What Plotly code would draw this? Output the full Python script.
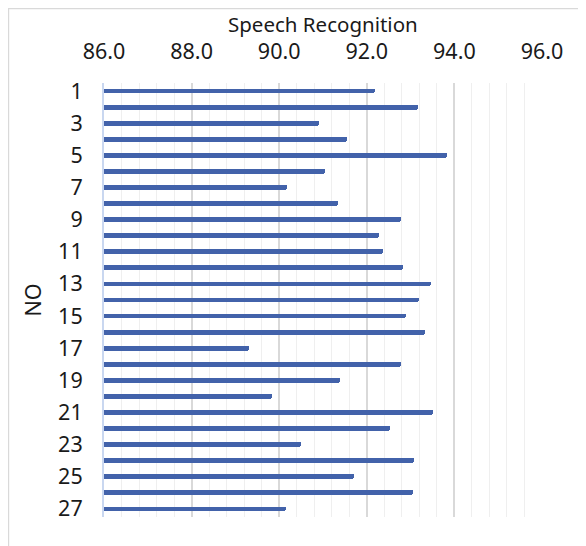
import plotly.graph_objects as go

no_labels = list(range(1, 28))
speech_recognition = [92.19, 93.18, 90.91, 91.55, 93.82, 91.05, 90.18, 91.35, 92.77,
                      92.27, 92.37, 92.83, 93.47, 93.19, 92.89, 93.34, 89.31, 92.77,
                      91.39, 89.83, 93.50, 92.54, 90.50, 93.07, 91.70, 93.05, 90.16]
x_tick_vals = [86, 88, 90, 92, 94, 96]
y_tick_vals = [n for n in no_labels if n % 2 == 1]

FONT = "Noto Sans"
FS = 21.5

fig = go.Figure()
fig.add_trace(go.Bar(
    x=speech_recognition,
    y=no_labels,
    orientation="h",
    width=0.3,
    marker=dict(color="#4262AA", line=dict(width=0), cornerradius=2),
    showlegend=False,
))

fig.update_layout(
    width=586, height=546,
    margin=dict(l=96, r=52, t=75, b=37, autoexpand=False),
    paper_bgcolor="white", plot_bgcolor="white",
    font=dict(family=FONT, size=FS, color="#1a1a1a"),
    bargap=0,
    xaxis=dict(
        side="top",
        range=[86, 96],
        tickvals=x_tick_vals,
        ticktext=[f"{v:.1f}" for v in x_tick_vals],
        ticks="", ticklabelstandoff=19,
        showgrid=True, gridcolor="#d9d9d9", gridwidth=1.5,
        minor=dict(dtick=0.4, tick0=86, showgrid=True, gridcolor="#efefef", gridwidth=1),
        zeroline=False, showline=False,
    ),
    yaxis=dict(
        range=[27.5, 0.5],
        tickvals=y_tick_vals,
        ticktext=[str(v) for v in y_tick_vals],
        ticks="", ticklabelstandoff=15,
        showgrid=False, zeroline=False,
        showline=True, linecolor="#c9d7f0", linewidth=2,
        title=dict(text="NO", standoff=11, font=dict(size=FS)),
    ),
    annotations=[dict(text="Speech Recognition", xref="paper", yref="paper",
                      x=0.5, y=1.137, xanchor="center", yanchor="middle",
                      showarrow=False, font=dict(size=20.5))],
    shapes=[dict(type="rect", xref="paper", yref="paper",
                 x0=-0.2182, x1=1.2, y0=-0.1, y1=1.1717,
                 line=dict(color="#d9d9d9", width=1.5), fillcolor="rgba(0,0,0,0)",
                 layer="below")],
)

fig.write_html("out.html")
